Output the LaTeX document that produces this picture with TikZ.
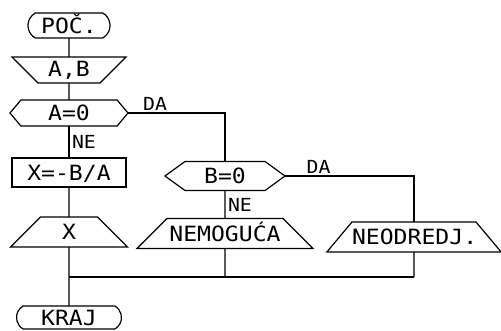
\documentclass[tikz,border=0pt]{standalone}
\usepackage{fontspec}
\newfontfamily\dotfont[FakeStretch=1.1]{DejaVu Sans Mono}
\usetikzlibrary{positioning,shapes.geometric,shapes.misc,shapes.symbols}

\begin{document}
\begin{tikzpicture}[x=1pt,y=-1pt,line width=1.2pt,
  every node/.style={font=\dotfont\fontsize{21}{24}\selectfont,text height=15.3pt,text depth=0pt,outer sep=0pt},
  term/.style={draw,rounded rectangle,rounded rectangle arc length=120,inner sep=0pt,minimum height=25pt},
  iobox/.style={draw,trapezium,trapezium left angle=#1,trapezium right angle=#1,inner sep=0pt,align=center,text height=22.5pt,text depth=7.5pt},
  hexa/.style={draw,signal,signal to=west and east,signal pointer angle=#1,inner sep=0pt,minimum height=29pt},
  proc/.style={draw,rectangle,inner sep=0pt,minimum height=29pt},
  lab/.style={inner sep=3pt,font=\dotfont\fontsize{18}{20}\selectfont,text height=13pt}]
  \useasboundingbox (0,0) rectangle (501,330);
  % blokovi
  \node (poc) [term,minimum width=82pt] at (69,25.5) {POČ.};
  \node (inp) [iobox=135,text width=62pt,text height=19.5pt,text depth=6.5pt,below=19pt of poc] {A,B};
  \node (a0) [hexa=100,minimum width=118pt,minimum height=26pt,below=17pt of inp] {A=0};
  \node (calc) [proc,minimum width=114pt,below=32pt of a0] {X=-B/A};
  \node (out) [iobox=45,text width=57pt,below=30pt of calc] {X};
  \node (kraj) [term,minimum width=105pt,minimum height=23pt,below=59pt of out] {KRAJ};
  \node (b0) [hexa=72,minimum width=120pt,below right=63pt and 156pt of a0.center,anchor=center] {B=0};
  \node (nemo) [iobox=45,text width=116pt,below=28pt of b0] {NEMOGUĆA};
  \node (neod) [iobox=50,text width=124pt,below right=61pt and 189pt of b0.center,anchor=center] {NEODREDJ.};
  \coordinate[below=30pt of out.south] (j);

  % veze
  \draw (poc) -- (inp);
  \draw (inp) -- (a0);
  \draw (a0) -- node[lab,right] {NE} (calc);
  \draw (calc) -- (out);
  \draw (out) -- (kraj);
  \draw (a0.east) -| node[lab,above,pos=0.14] {DA} (b0);
  \draw (b0) -- node[lab,right] {NE} (nemo);
  \draw (b0.east) -| node[lab,above,pos=0.13] {DA} (neod);
  \draw (nemo) -- (nemo |- j);
  \draw (neod) -- (neod |- j);
  \draw (out |- j) -- (neod |- j);
\end{tikzpicture}
\end{document}
